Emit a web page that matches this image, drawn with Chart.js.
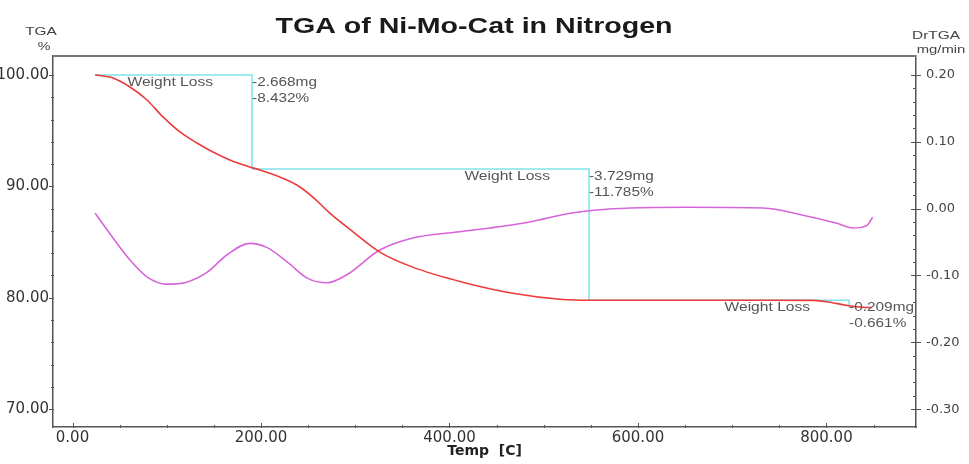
<!DOCTYPE html>
<html>
<head>
<meta charset="utf-8">
<title>TGA of Ni-Mo-Cat in Nitrogen</title>
<script src="https://cdn.jsdelivr.net/npm/chart.js@4.4.1/dist/chart.umd.min.js"></script>
<style>
  html, body { margin: 0; padding: 0; background: #fff; }
  #wrap { width: 969px; height: 464px; }
</style>
</head>
<body>
<div id="wrap"><canvas id="tgaChart" width="969" height="464"></canvas></div>
<script>
// TGA curve: weight % against temperature (C)
const tgaTemp   = [24, 43, 61, 79, 96, 114, 132, 149, 167, 185, 199, 220, 238, 255, 273, 298, 326, 361, 414, 467, 520, 549, 600, 666, 730, 786, 804, 822, 838, 848];
const tgaWeight = [100.0, 99.73, 98.92, 97.75, 96.23, 94.88, 93.89, 93.08, 92.36, 91.82, 91.46, 90.84, 90.12, 89.04, 87.6, 85.9, 84.1, 82.75, 81.4, 80.41, 79.85, 79.78, 79.78, 79.78, 79.78, 79.77, 79.6, 79.3, 79.15, 79.12];

// DrTGA curve: mg/min against temperature (C)
const drTemp = [24, 43, 61, 79, 100, 121, 143, 164, 188, 206, 228, 249, 270, 291, 326, 361, 408, 443, 485, 528, 556, 592, 652, 733, 775, 811, 828, 843, 849];
const drRate = [-0.007, -0.044, -0.077, -0.102, -0.113, -0.110, -0.095, -0.069, -0.052, -0.058, -0.080, -0.104, -0.111, -0.099, -0.062, -0.044, -0.035, -0.029, -0.020, -0.007, -0.002, 0.001, 0.002, 0.001, -0.010, -0.022, -0.029, -0.025, -0.013];

// weight loss steps
const stepStart = [24, 190.5, 548];
const stepEnd   = [190.5, 548, 824];
const lossMg    = ['-2.668mg', '-3.729mg', '-0.209mg'];
const lossPct   = [8.432, 11.785, 0.661];

// axis ticks
const xTicks   = [0, 200, 400, 600, 800];
const tgaTicks = [70, 80, 90, 100];
const drTicks  = [-0.3, -0.2, -0.1, 0, 0.1, 0.2];

// plateau level of every step (starting at 100 %)
const stepLevel = [100];
lossPct.forEach((p, i) => stepLevel.push(stepLevel[i] - p));

const tickFont = { family: 'DejaVu Sans', size: 15 };
const axisColor = '#555';

// draw text squeezed/stretched horizontally
function drawStretched(ctx, text, x, y, align, sx) {
    ctx.save();
    ctx.translate(x, y);
    ctx.scale(sx, 1);
    ctx.textAlign = align;
    ctx.fillText(text, 0, 0);
    ctx.restore();
}

const decor = {
    id: 'tgaDecor',
    beforeDatasetsDraw(chart) {
        const { ctx, chartArea: a, scales: { x, y } } = chart;
        ctx.save();
        ctx.beginPath();
        ctx.rect(a.left, a.top, a.right - a.left, a.bottom - a.top);
        ctx.clip();
        ctx.strokeStyle = '#7fe3ea';
        ctx.lineWidth = 1.5;
        for (let i = 0; i < stepStart.length; i++) {
            const x0 = x.getPixelForValue(stepStart[i]);
            const x1 = x.getPixelForValue(stepEnd[i]);
            const y0 = y.getPixelForValue(stepLevel[i]);
            const y1 = y.getPixelForValue(stepLevel[i + 1]);
            ctx.beginPath();
            ctx.moveTo(x0, y0);
            ctx.lineTo(x1, y0);
            ctx.lineTo(x1, y1);
            ctx.stroke();
        }
        ctx.restore();
    },
    afterDraw(chart) {
        const { ctx, chartArea: a, scales: { x, y, y1 } } = chart;
        ctx.save();

        // frame top line
        ctx.strokeStyle = '#777';
        ctx.lineWidth = 2;
        ctx.beginPath();
        ctx.moveTo(a.left, a.top);
        ctx.lineTo(a.right, a.top);
        ctx.stroke();

        // tick marks
        ctx.strokeStyle = axisColor;
        ctx.lineWidth = 1;
        for (let v = 0; v <= 880; v += 50) {
            const px = Math.round(x.getPixelForValue(v)) + 0.5;
            const major = v % 200 === 0;
            ctx.beginPath();
            ctx.moveTo(px, a.bottom + 1);
            ctx.lineTo(px, a.bottom - (major ? 4 : 2));
            ctx.stroke();
        }
        for (let v = 70; v <= 100; v += 2) {
            const py = Math.round(y.getPixelForValue(v)) + 0.5;
            const major = v % 10 === 0;
            ctx.beginPath();
            ctx.moveTo(a.left - (major ? 4 : 2), py);
            ctx.lineTo(a.left + 1, py);
            ctx.stroke();
        }
        for (let k = -15; k <= 10; k++) {
            const py = Math.round(y1.getPixelForValue(k * 0.02)) + 0.5;
            const major = k % 5 === 0;
            ctx.beginPath();
            ctx.moveTo(a.right - (major ? 5 : 3), py);
            ctx.lineTo(a.right + (major ? 5 : 0), py);
            ctx.stroke();
        }

        // title and unit labels
        ctx.fillStyle = '#1a1a1a';
        ctx.textBaseline = 'alphabetic';
        ctx.font = 'bold 22px "Liberation Sans", Arial, sans-serif';
        drawStretched(ctx, 'TGA of Ni-Mo-Cat in Nitrogen', 474, 33, 'center', 1.3);

        ctx.fillStyle = '#444';
        ctx.textBaseline = 'middle';
        ctx.font = '11px "Liberation Sans", Arial, sans-serif';
        drawStretched(ctx, 'TGA', 41, 32, 'center', 1.4);
        drawStretched(ctx, '%', 44, 47, 'center', 1.3);
        drawStretched(ctx, 'DrTGA', 936, 36, 'center', 1.4);
        drawStretched(ctx, 'mg/min', 941, 50, 'center', 1.35);

        // weight loss labels
        ctx.fillStyle = '#555';
        ctx.font = '12px "Liberation Sans", Arial, sans-serif';
        for (let i = 0; i < stepEnd.length; i++) {
            const px = x.getPixelForValue(stepEnd[i]);
            const py = y.getPixelForValue(stepLevel[i]);
            drawStretched(ctx, 'Weight Loss', px - 39, py + 8, 'right', 1.3);
            drawStretched(ctx, lossMg[i], px, py + 8, 'left', 1.28);
            drawStretched(ctx, '-' + lossPct[i].toFixed(3) + '%', px, py + 24, 'left', 1.28);
        }
        ctx.restore();
    }
};

new Chart(document.getElementById('tgaChart'), {
    type: 'line',
    data: {
        datasets: [{
            label: 'TGA',
            data: tgaTemp.map((t, i) => ({ x: t, y: tgaWeight[i] })),
            yAxisID: 'y',
            borderColor: '#ec3b3b',
            borderWidth: 1.6,
            pointRadius: 0,
            cubicInterpolationMode: 'monotone'
        }, {
            label: 'DrTGA',
            data: drTemp.map((t, i) => ({ x: t, y: drRate[i] })),
            yAxisID: 'y1',
            borderColor: '#d765d9',
            borderWidth: 1.6,
            pointRadius: 0,
            cubicInterpolationMode: 'monotone'
        }]
    },
    options: {
        responsive: false,
        animation: false,
        layout: { padding: { top: 56, left: 0, right: 0, bottom: 0 } },
        plugins: {
            legend: { display: false },
            tooltip: { enabled: false },
            title: { display: false }
        },
        scales: {
            x: {
                type: 'linear',
                min: -20.7,
                max: 895,
                afterBuildTicks: s => { s.ticks = xTicks.map(v => ({ value: v })); },
                afterFit: s => { s.height = 37; },
                ticks: {
                    callback: v => v.toFixed(2),
                    font: tickFont,
                    color: '#333',
                    padding: 2,
                    maxRotation: 0,
                    autoSkip: false
                },
                grid: { display: false, drawTicks: false },
                border: { display: true, color: axisColor, width: 1.5 },
                title: {
                    display: true,
                    text: 'Temp  [C]',
                    color: '#222',
                    font: { family: 'DejaVu Sans', weight: 'bold', size: 14 },
                    padding: { top: 0, bottom: 4 }
                }
            },
            y: {
                position: 'left',
                min: 68.4,
                max: 101.7,
                afterBuildTicks: s => { s.ticks = tgaTicks.map(v => ({ value: v })); },
                afterFit: s => { s.width = 53; },
                ticks: {
                    callback: v => v.toFixed(2),
                    font: tickFont,
                    color: '#333',
                    padding: 4
                },
                grid: { display: false, drawTicks: false },
                border: { display: true, color: axisColor, width: 1.5 }
            },
            y1: {
                position: 'right',
                min: -0.3267,
                max: 0.2283,
                afterBuildTicks: s => { s.ticks = drTicks.map(v => ({ value: v })); },
                afterFit: s => { s.width = 53; },
                ticks: {
                    callback: v => v.toFixed(2),
                    font: { family: 'DejaVu Sans', size: 13 },
                    color: '#444',
                    padding: 10
                },
                grid: { display: false, drawTicks: false },
                border: { display: true, color: axisColor, width: 1.5 }
            }
        }
    },
    plugins: [decor]
});
</script>
</body>
</html>
